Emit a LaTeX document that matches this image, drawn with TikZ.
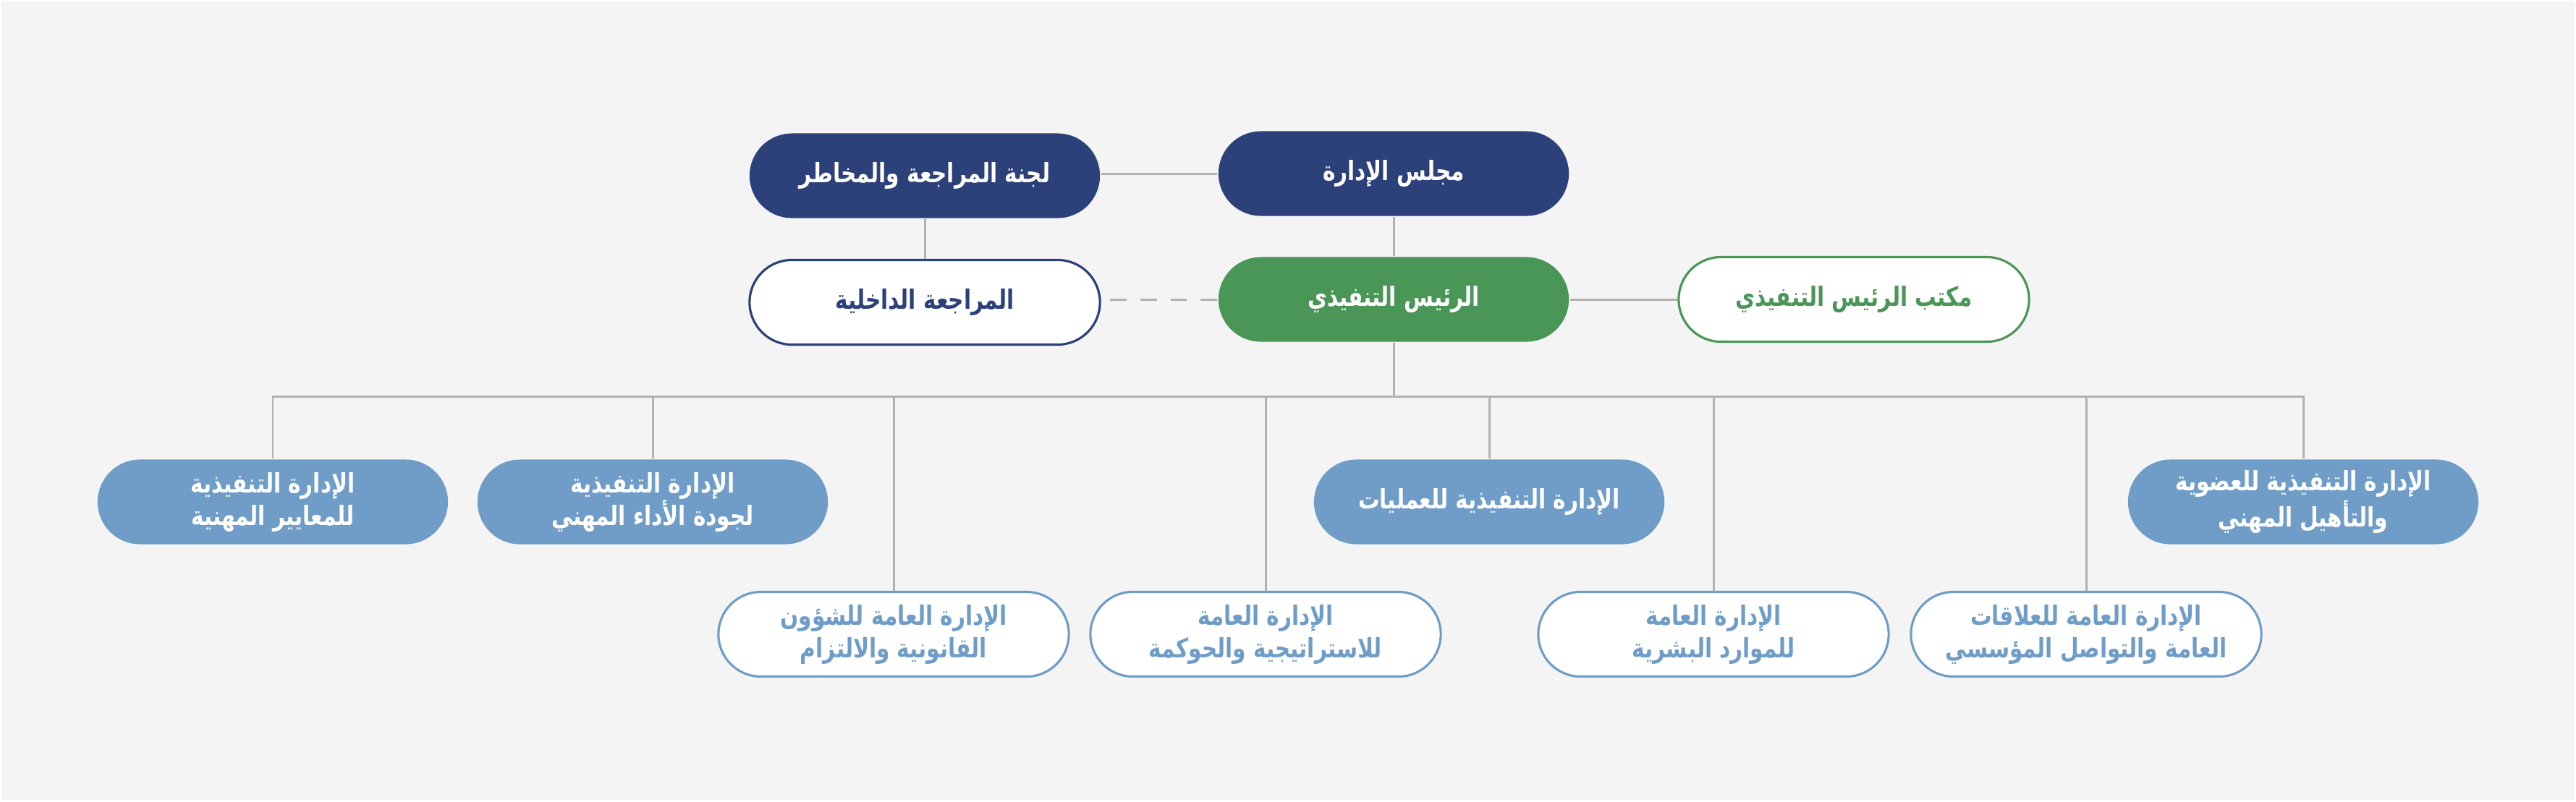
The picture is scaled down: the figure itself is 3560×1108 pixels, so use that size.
\documentclass[tikz,border=0pt]{standalone}
\usepackage{fontspec}
\newfontfamily\arabicfont[Script=Arabic,FakeStretch=0.8]{DejaVu Sans}
\TeXXeTstate=1
\usepackage{tikz}
\usetikzlibrary{positioning}
\definecolor{boardnavy}{RGB}{44,64,121}
\definecolor{ceogreen}{RGB}{74,150,87}
\definecolor{deptblue}{RGB}{111,157,200}
\definecolor{linegray}{RGB}{178,178,178}
\definecolor{pagebg}{RGB}{244,244,244}
\newcommand{\ar}[1]{\beginR #1\endR}
\tikzset{
  unitbox/.style={rounded corners=0.585cm,
    minimum width=4.84cm, minimum height=1.17cm, inner sep=0pt,
    align=center, line width=0.9pt,
    font=\arabicfont\bfseries\fontsize{10.5}{12.8}\selectfont},
  boardbox/.style={unitbox, fill=boardnavy, text=white},
  ceobox/.style={unitbox, fill=ceogreen, text=white},
  auditbox/.style={unitbox, draw=boardnavy, fill=white, text=boardnavy},
  officebox/.style={unitbox, draw=ceogreen, fill=white, text=ceogreen},
  execbox/.style={unitbox, fill=deptblue, text=white},
  genbox/.style={unitbox, draw=deptblue, fill=white, text=deptblue},
  link/.style={draw=linegray, line width=0.85pt},
  dlink/.style={link, dash pattern=on 6.5pt off 5.4pt},
}
\begin{document}
\begin{tikzpicture}[x=0.01cm, y=-0.01cm]
  \fill[white] (0,0) rectangle (3560,1108);
  \fill[pagebg] (2,2) rectangle (3558,1106);
  \useasboundingbox (0,0) rectangle (3560,1108);

  % top level
  \node[boardbox] (board) at (1926,240) {\ar{مجلس الإدارة}};
  \node[boardbox] (committee) at (1278,243) {\ar{لجنة المراجعة والمخاطر}};
  \node[auditbox] (audit) at (1278,418) {\ar{المراجعة الداخلية}};
  \node[ceobox] (ceo) at (1926,414) {\ar{الرئيس التنفيذي}};
  \node[officebox] (office) at (2562,414) {\ar{مكتب الرئيس التنفيذي}};

  % executive departments
  \node[execbox] (stdexec) at (377,694)
    {\ar{الإدارة التنفيذية}\\\ar{للمعايير المهنية}};
  \node[execbox] (qualexec) at (902,694)
    {\ar{الإدارة التنفيذية}\\\ar{لجودة الأداء المهني}};
  \node[execbox] (opsexec) at (2058,694)
    {\ar{الإدارة التنفيذية للعمليات}};
  \node[execbox] (memberexec) at (3183,694)
    {\ar{الإدارة التنفيذية للعضوية}\\\ar{والتأهيل المهني}};

  % general departments
  \node[genbox] (legal) at (1235,877)
    {\ar{الإدارة العامة للشؤون}\\\ar{القانونية والالتزام}};
  \node[genbox] (strategy) at (1749,877)
    {\ar{الإدارة العامة}\\\ar{للاستراتيجية والحوكمة}};
  \node[genbox] (hr) at (2368,877)
    {\ar{الإدارة العامة}\\\ar{للموارد البشرية}};
  \node[genbox] (relations) at (2883,877)
    {\ar{الإدارة العامة للعلاقات}\\\ar{العامة والتواصل المؤسسي}};

  % connectors
  \coordinate (bus) at (1926,548);
  \draw[link] (board.west) -- (board.west -| committee.east);
  \draw[link] (committee.south) -- (audit.north);
  \draw[link] (board.south) -- (ceo.north);
  \draw[dlink] (ceo.west) -- (ceo.west -| audit.east);
  \draw[link] (ceo.east) -- (ceo.east -| office.west);
  \foreach \n in {stdexec,qualexec,legal,strategy,opsexec,hr,relations,memberexec}
    \draw[link] (ceo.south) -- (bus) -| (\n.north);
\end{tikzpicture}
\end{document}
